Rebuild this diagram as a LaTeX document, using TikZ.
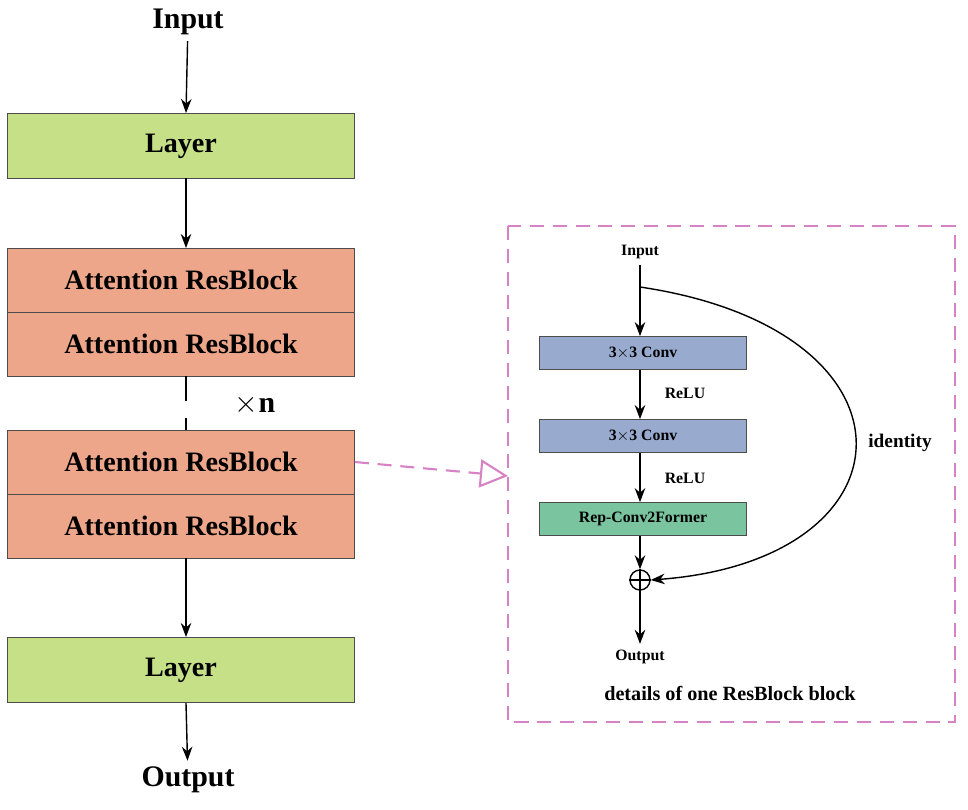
\documentclass[tikz,border=0pt]{standalone}
\usepackage{fontspec}
\setmainfont{Liberation Serif}
\usetikzlibrary{arrows.meta,positioning}
\definecolor{layergreen}{RGB}{197,224,135}
\definecolor{blocksalmon}{RGB}{238,166,138}
\definecolor{convblue}{RGB}{152,170,206}
\definecolor{repgreen}{RGB}{122,196,160}
\definecolor{pinkdash}{RGB}{214,130,196}
\begin{document}
\begin{tikzpicture}[
    x=0.02cm, y=-0.02cm,
    layer/.style={rectangle, draw=black!70, fill=layergreen, minimum width=6.94cm, minimum height=1.3cm, font=\fontsize{16}{18}\selectfont\bfseries},
    block/.style={rectangle, draw=black!70, fill=blocksalmon, minimum width=6.94cm, minimum height=1.28cm, font=\fontsize{16}{18}\selectfont\bfseries},
    conv/.style={rectangle, draw=black!70, fill=convblue, minimum width=4.14cm, minimum height=0.66cm, font=\fontsize{9}{10}\selectfont\bfseries},
    rep/.style={rectangle, draw=black!70, fill=repgreen, minimum width=4.14cm, minimum height=0.66cm, font=\fontsize{9}{10}\selectfont\bfseries},
    big/.style={font=\fontsize{17}{19}\selectfont\bfseries},
    small/.style={font=\fontsize{9}{10}\selectfont\bfseries},
    arrow/.style={thick,-{Stealth[length=8pt,width=6pt]}},
    dashedarrow/.style={very thick, pinkdash, dashed, dash pattern=on 8pt off 5pt, -{Triangle[open,length=16pt,width=16pt,fill=white]}}
]
    \useasboundingbox (0,0) rectangle (968,809);
    % Main stack
    \node [big] (in) at (188,22) {Input};
    \node [layer] (layer1) at (181,146) {Layer};
    \node [block] (att1) at (181,280) {Attention ResBlock};
    \node [block] (att2) at (181,344) {Attention ResBlock};
    \node [block] (att3) at (181,462) {Attention ResBlock};
    \node [block] (att4) at (181,526) {Attention ResBlock};
    \node [layer] (layer2) at (181,670) {Layer};
    \node [big] (out) at (188,780) {Output};
    \node [big] (times) at (255,405) {$\times$n};

    \draw [arrow] (in) -- (186,113);
    \draw [arrow] (186,178) -- (186,248);
    \draw [thick, dashed, dash pattern=on 14pt off 10pt] (186,376) -- (186,430);
    \draw [arrow] (186,558) -- (186,637);
    \draw [arrow] (186,703) -- (out);

    % Detail frame
    \draw [very thick, pinkdash, dashed, dash pattern=on 8pt off 5pt] (508,226) rectangle (955,722);
    \node [small] (din) at (640,252) {Input};
    \node [conv] (conv1) at (643,353) {3$\times$3 Conv};
    \node [conv] (conv2) at (643,436) {3$\times$3 Conv};
    \node [rep] (rep) at (643,519) {Rep-Conv2Former};
    \node [draw, thick, circle, inner sep=0pt, minimum size=0.4cm] (plus) at (640,580) {};
    \draw [thick] (plus.north) -- (plus.south) (plus.west) -- (plus.east);
    \node [small] (dout) at (640,657) {Output};
    \node [font=\fontsize{11.5}{13}\selectfont\bfseries] (caption) at (730,693) {details of one ResBlock block};
    \node [small] (relu1) at (685,393) {ReLU};
    \node [small] (relu2) at (685,478) {ReLU};
    \node [small, font=\fontsize{11}{12}\selectfont\bfseries] (ident) at (900,443) {identity};

    \draw [arrow] (din) -- (conv1.north -| din);
    \draw [arrow] (conv1.south -| din) -- (conv2.north -| din);
    \draw [arrow] (conv2.south -| din) -- (rep.north -| din);
    \draw [arrow] (rep.south -| din) -- (plus);
    \draw [arrow] (plus) -- (dout);
    \draw [arrow] (640,287) .. controls (930,330) and (920,560) .. (plus.east);

    % Link to detail
    \draw [dashedarrow] (att3.east) -- (508,476);
\end{tikzpicture}
\end{document}
